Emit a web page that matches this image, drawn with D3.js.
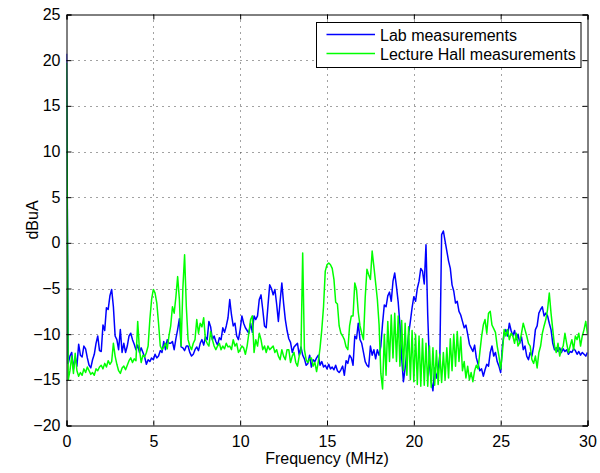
<!DOCTYPE html>
<html>
<head>
<meta charset="utf-8">
<script src="https://cdn.jsdelivr.net/npm/d3@7"></script>
<style>
  body { margin: 0; background: #fff; }
  svg { display: block; font-family: "Liberation Sans", Arial, Helvetica, sans-serif; }
</style>
</head>
<body>
<div id="chart"></div>
<script>
'use strict';

// sampling of both traces (MHz)
const freqStep = 0.1

// Lab measurements (dBuA), one row per MHz
const labValues = [
  20.7, -13.2, -12.4, -12.0, -13.8, -12.5, -13.5, -11.1, -12.3, -12.5,
  -11.3, -11.6, -12.6, -13.4, -13.7, -12.8, -12.2, -11.0, -10.2, -11.8,
  -11.9, -9.0, -9.6, -7.1, -7.3, -5.8, -5.1, -7.0, -10.2, -10.6,
  -11.7, -9.5, -12.0, -11.0, -12.0, -11.3, -10.2, -9.9, -10.6, -11.1,
  -11.7, -11.2, -12.0, -11.5, -12.0, -12.5, -13.3, -12.8, -13.0, -12.6,
  -12.8, -12.2, -12.6, -12.4, -11.8, -12.0, -10.8, -11.7, -10.6, -11.0,
  -11.0, -10.8, -11.7, -10.5, -9.5, -8.3, -11.4, -11.5, -11.8, -11.3,
  -11.3, -12.0, -12.4, -12.2, -11.7, -11.4, -11.8, -11.0, -10.6, -11.2,
  -10.3, -10.6, -8.6, -9.2, -10.6, -10.2, -10.8, -11.2, -10.4, -10.6,
  -9.3, -9.8, -9.1, -8.2, -6.2, -7.9, -9.1, -8.8, -10.2, -10.6,
  -9.5, -8.0, -8.8, -9.3, -9.6, -9.9, -8.8, -9.8, -8.0, -8.4,
  -8.0, -6.2, -5.7, -7.3, -9.1, -9.3, -6.9, -4.6, -5.0, -5.7,
  -5.1, -6.7, -8.6, -6.4, -4.4, -6.6, -8.4, -9.6, -10.5, -10.9,
  -12.0, -11.4, -11.2, -11.0, -12.3, -11.4, -12.3, -12.7, -13.4, -13.2,
  -12.3, -13.6, -12.8, -13.0, -12.6, -12.3, -13.4, -13.0, -13.6, -13.4,
  -13.8, -13.3, -13.8, -13.6, -13.9, -13.4, -14.0, -14.2, -13.9, -13.5,
  -14.5, -12.9, -13.2, -12.3, -12.6, -13.4, -10.2, -10.5, -8.8, -10.6,
  -11.0, -12.0, -13.0, -13.4, -13.6, -11.3, -12.3, -11.7, -12.7, -11.7,
  -12.3, -11.3, -8.8, -6.8, -7.0, -5.8, -5.4, -6.4, -4.2, -3.3,
  -4.8, -6.5, -9.0, -12.6, -15.2, -13.7, -11.9, -10.0, -8.6, -7.1,
  -5.9, -6.4, -5.0, -4.2, -2.8, -3.1, -4.5, -0.2, -7.9, -13.3,
  -15.2, -16.2, -13.7, -14.8, -14.0, -12.2, 0.9, 1.3, 0.2, -0.9,
  -2.0, -2.8, -4.6, -5.3, -6.6, -6.4, -7.5, -7.9, -8.6, -9.3,
  -9.0, -10.0, -11.1, -11.5, -11.9, -11.2, -12.6, -13.3, -14.0, -13.8,
  -14.6, -13.9, -13.3, -13.5, -12.0, -11.3, -12.4, -12.0, -13.0, -13.5,
  -14.2, -11.3, -9.9, -9.5, -10.2, -8.8, -9.6, -10.2, -9.6, -10.6,
  -10.0, -11.0, -10.3, -11.7, -11.3, -12.4, -12.8, -12.0, -12.4, -11.3,
  -9.5, -9.1, -7.7, -7.3, -7.0, -8.0, -7.7, -8.0, -8.8, -9.5,
  -11.0, -11.7, -11.5, -11.9, -11.5, -12.0, -11.6, -11.9, -11.7, -12.2,
  -11.9, -12.0, -11.6, -11.8, -12.2, -11.9, -12.3, -12.0, -12.2, -12.4,
  -12.0
]

// Lecture Hall measurements (dBuA), one row per MHz
const hallValues = [
  19.7, -15.0, -14.0, -12.4, -14.3, -12.1, -14.0, -14.6, -14.2, -14.5,
  -13.8, -14.2, -13.6, -14.0, -14.4, -14.2, -14.5, -13.8, -14.0, -13.6,
  -13.4, -13.8, -13.2, -13.6, -12.9, -13.3, -13.0, -11.0, -12.4, -13.3,
  -14.0, -14.3, -13.7, -13.5, -13.9, -13.4, -12.9, -12.6, -13.1, -12.7,
  -12.9, -8.6, -11.7, -13.1, -12.3, -12.5, -12.0, -11.3, -8.4, -6.2,
  -5.1, -5.5, -6.6, -8.8, -11.3, -11.7, -11.4, -11.0, -11.6, -10.2,
  -9.1, -7.0, -7.7, -5.9, -3.7, -6.2, -11.3, -5.0, -1.3, -7.0,
  -10.6, -11.3, -11.7, -11.0, -10.6, -8.4, -9.9, -8.8, -9.2, -8.2,
  -10.6, -11.0, -11.3, -9.7, -10.6, -11.3, -11.7, -11.3, -11.0, -11.7,
  -11.3, -11.6, -11.0, -11.4, -11.3, -11.7, -10.6, -11.3, -11.0, -12.0,
  -11.7, -11.3, -11.5, -12.2, -11.3, -9.9, -8.4, -8.0, -12.0, -10.6,
  -11.3, -9.9, -10.6, -11.7, -11.3, -12.0, -11.3, -11.7, -11.5, -11.3,
  -12.0, -11.7, -12.4, -12.8, -11.7, -12.4, -12.8, -11.7, -11.7, -13.1,
  -12.4, -12.0, -13.1, -13.5, -12.4, -11.9, -1.1, -11.7, -12.8, -13.1,
  -12.7, -12.6, -13.5, -13.1, -14.1, -13.0, -11.5, -9.5, -7.0, -3.1,
  -2.4, -2.2, -2.4, -2.8, -4.0, -6.5, -6.7, -9.1, -9.9, -10.2,
  -10.6, -11.4, -11.7, -9.1, -8.0, -8.0, -4.4, -5.1, -7.6, -9.1,
  -9.9, -10.6, -6.0, -2.9, -3.5, -4.0, -0.9, -2.6, -4.4, -6.2,
  -9.0, -14.3, -16.0, -10.0, -14.5, -8.6, -13.0, -7.9, -12.6, -7.7,
  -13.0, -8.0, -13.5, -8.5, -14.0, -8.8, -14.5, -9.2, -15.0, -9.6,
  -15.2, -10.0, -15.5, -10.2, -15.7, -10.5, -15.6, -11.0, -15.7, -11.3,
  -15.8, -11.5, -15.6, -11.8, -15.5, -12.2, -15.3, -12.0, -15.0, -11.5,
  -14.8, -10.5, -14.0, -10.0, -13.5, -9.7, -13.0, -10.3, -14.0, -13.0,
  -14.8, -13.5, -15.0, -14.2, -15.2, -14.0, -13.4, -13.8, -12.0, -10.3,
  -9.0, -8.4, -9.9, -7.7, -7.5, -9.0, -9.4, -9.8, -11.3, -12.4,
  -13.8, -12.0, -9.5, -10.2, -9.5, -10.6, -9.9, -10.2, -11.0, -9.9,
  -11.3, -10.9, -9.9, -8.8, -9.5, -10.2, -11.0, -11.3, -12.8, -13.2,
  -12.4, -13.7, -12.0, -11.3, -9.9, -9.1, -8.4, -7.3, -5.5, -7.7,
  -9.5, -11.3, -12.0, -11.0, -12.4, -11.7, -11.3, -9.9, -11.0, -12.0,
  -11.3, -10.6, -11.7, -10.2, -10.6, -9.9, -11.3, -10.2, -9.5, -8.6,
  -10.0
]

const xTicks = [0, 5, 10, 15, 20, 25, 30]
const yTicks = [-20, -15, -10, -5, 0, 5, 10, 15, 20, 25]
const seriesNames = ['Lab measurements', 'Lecture Hall measurements']

// layout ---------------------
const width = 600
const height = 473
const plotLeft = 66.5, plotRight = 587.5, plotTop = 14.5, plotBottom = 425.5
const tickLen = 5
const fontSize = 16
const lineWidth = 1.5
const lab_color = '#0000ff'
const hall_color = '#00ff00'

const svg = d3.select('#chart').append('svg')
    .attr('width', width)
    .attr('height', height)

const x = d3.scaleLinear().domain([0, 30]).range([plotLeft, plotRight])
const y = d3.scaleLinear().domain([-20, 25]).range([plotBottom, plotTop])

// GRID (dotted)
const grid = svg.append('g')
grid.selectAll('line.gx')
    .data(xTicks.slice(1, -1))
    .enter().append('line')
    .attr('x1', d => Math.round(x(d)) + 0.5).attr('x2', d => Math.round(x(d)) + 0.5)
    .attr('y1', plotTop).attr('y2', plotBottom)
    .attr('stroke', '#444').attr('stroke-width', 1).attr('stroke-dasharray', '1,5')
grid.selectAll('line.gy')
    .data(yTicks.slice(1, -1))
    .enter().append('line')
    .attr('y1', d => Math.round(y(d)) + 0.5).attr('y2', d => Math.round(y(d)) + 0.5)
    .attr('x1', plotLeft).attr('x2', plotRight)
    .attr('stroke', '#444').attr('stroke-width', 1).attr('stroke-dasharray', '1,5')

// LINES
const line = d3.line()
    .x((d, i) => x(i * freqStep))
    .y(d => y(d))

svg.append('defs').append('clipPath').attr('id', 'plotclip')
    .append('rect').attr('x', plotLeft).attr('y', plotTop)
    .attr('width', plotRight - plotLeft).attr('height', plotBottom - plotTop)

const traces = svg.append('g').attr('clip-path', 'url(#plotclip)')
traces.append('path')
    .attr('d', line(labValues))
    .attr('fill', 'none').attr('stroke', lab_color).attr('stroke-width', lineWidth)
    .attr('stroke-linejoin', 'round')
traces.append('path')
    .attr('d', line(hallValues))
    .attr('fill', 'none').attr('stroke', hall_color).attr('stroke-width', lineWidth)
    .attr('stroke-linejoin', 'round')

// AXES (ticks inside, box all round)
const fmt = d3.format('d')

svg.append('g')
    .attr('transform', `translate(0,${plotBottom})`)
    .call(d3.axisBottom(x).tickValues(xTicks).tickFormat(fmt).tickSize(-tickLen).tickPadding(10))
svg.append('g')
    .attr('transform', `translate(0,${plotTop})`)
    .call(d3.axisTop(x).tickValues(xTicks).tickFormat('').tickSize(-tickLen))
svg.append('g')
    .attr('transform', `translate(${plotLeft},0)`)
    .call(d3.axisLeft(y).tickValues(yTicks).tickFormat(fmt).tickSize(-tickLen).tickPadding(6))
svg.append('g')
    .attr('transform', `translate(${plotRight},0)`)
    .call(d3.axisRight(y).tickValues(yTicks).tickFormat('').tickSize(-tickLen))

svg.selectAll('.domain').attr('stroke', '#000').attr('stroke-width', 1)
svg.selectAll('.tick line').attr('stroke', '#000')
svg.selectAll('.tick text')
    .attr('font-size', fontSize).attr('font-family', '"Liberation Sans", Arial, sans-serif')
    .attr('fill', '#000')

// AXIS LABELS
svg.append('text')
    .attr('x', (plotLeft + plotRight) / 2).attr('y', 464)
    .attr('text-anchor', 'middle').attr('font-size', fontSize)
    .text('Frequency (MHz)')
svg.append('text')
    .attr('transform', `translate(38,${(plotTop + plotBottom) / 2}) rotate(-90)`)
    .attr('text-anchor', 'middle').attr('font-size', fontSize)
    .text('dBuA')

// LEGEND
const legend = svg.append('g')
legend.append('rect')
    .attr('x', 316.5).attr('y', 22.5).attr('width', 264.5).attr('height', 45)
    .attr('fill', '#fff').attr('stroke', '#000').attr('stroke-width', 1)
const legendRows = legend.selectAll('g.row')
    .data(seriesNames)
    .enter().append('g')
    .attr('transform', (d, i) => `translate(0,${i === 0 ? 34.5 : 53.5})`)
legendRows.append('line')
    .attr('x1', 326.5).attr('x2', 375).attr('y1', 0).attr('y2', 0)
    .attr('stroke', (d, i) => i === 0 ? lab_color : hall_color).attr('stroke-width', 1.3)
legendRows.append('text')
    .attr('x', 380).attr('y', 6)
    .attr('font-size', fontSize)
    .text(d => d)
</script>
</body>
</html>
